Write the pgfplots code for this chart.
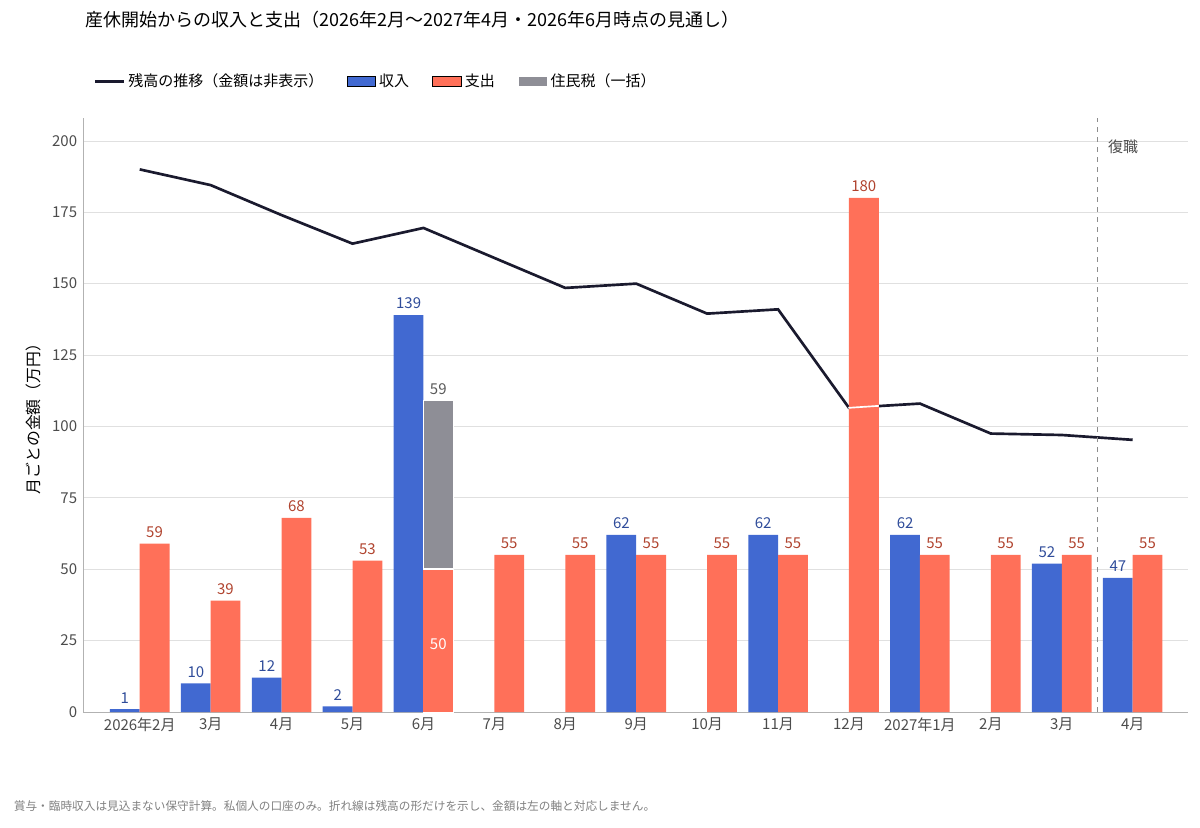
\documentclass[border=0pt]{standalone}
\usepackage{pgfplots}
\pgfplotsset{compat=1.18}
\usepackage{fontspec}
\setmainfont{Noto Sans CJK JP}
\definecolor{cin}{HTML}{4169D1}
\definecolor{cout}{HTML}{FF7059}
\definecolor{ctax}{HTML}{8E8E96}
\definecolor{cline}{HTML}{1A1A2E}
\definecolor{tin}{HTML}{2F4C9A}
\definecolor{tout}{HTML}{B0432E}
\begin{document}
\begin{tikzpicture}
\useasboundingbox (0pt,0pt) rectangle (720pt,496.2pt);
\node[anchor=west,font=\fontsize{10.8}{12}\selectfont] at (48pt,484.2pt) {産休開始からの収入と支出（2026年2月〜2027年4月・2026年6月時点の見通し）};
\node[anchor=west,font=\fontsize{7}{8}\selectfont,text=gray] at (4.8pt,12.6pt) {賞与・臨時収入は見込まない保守計算。私個人の口座のみ。折れ線は残高の形だけを示し、金額は左の軸と対応しません。};
\begin{axis}[at={(49.8pt,69pt)},anchor=south west,scale only axis,
 width=663pt,height=356.4pt,
 xmin=-0.8,xmax=14.78,ymin=0,ymax=208,
 xtick={0,...,14},
 xticklabels={2026年2月,3月,4月,5月,6月,7月,8月,9月,10月,11月,12月,2027年1月,2月,3月,4月},
 ytick={0,25,...,200},
 /pgf/number format/assume math mode=true,
 tick label style={font=\fontsize{9}{10}\selectfont,text=black!70},
 major tick length=0pt,
 axis x line*=bottom, axis y line*=left,
 axis line style={black!30},
 ymajorgrids, grid style={black!12},
 ylabel={月ごとの金額（万円）},
 ylabel style={font=\fontsize{9.5}{10}\selectfont},
 legend style={at={(0.005,1.062)},anchor=west,draw=none,legend columns=4,
   font=\fontsize{9}{10}\selectfont,/tikz/every even column/.append style={column sep=12pt}},
 clip=false,
 every node near coord/.append style={font=\fontsize{9}{10}\selectfont},
]
\addplot[cline,line width=1.6pt] coordinates {(0,190)(1,184.5)(2,174)(3,164)(4,169.5)(5,159)(6,148.5)(7,150)(8,139.5)(9,141)(10,106.5)(11,108)(12,97.5)(13,97)(14,95.3)};
\addlegendentry{残高の推移（金額は非表示）}
\addplot[ybar,bar width=0.42,bar shift=-0.21,fill=cin,draw=none,area legend,
  nodes near coords,nodes near coords style={text=tin,xshift=-8.9pt}] coordinates {(0,1)(1,10)(2,12)(3,2)(4,139)(7,62)(9,62)(11,62)(13,52)(14,47)};
\addlegendentry{収入}
\addplot[ybar,bar width=0.42,bar shift=0.21,fill=cout,draw=none,area legend,
  nodes near coords,nodes near coords style={text=tout,xshift=8.9pt}] coordinates {(0,59)(1,39)(2,68)(3,53)(5,55)(6,55)(7,55)(8,55)(9,55)(10,180)(11,55)(12,55)(13,55)(14,55)};
\addlegendentry{支出}
\addplot[ybar,bar width=0.42,bar shift=0.21,fill=ctax,draw=white,area legend,
  point meta=explicit symbolic,nodes near coords,nodes near coords style={text=black!65,xshift=8.9pt}] coordinates {(4,109)[59]};
\addlegendentry{住民税（一括）}
\addplot[ybar,bar width=0.42,bar shift=0.21,fill=cout,draw=none,forget plot,
  point meta=explicit symbolic,nodes near coords,
  nodes near coords style={text=white,xshift=8.9pt,yshift=-52pt}] coordinates {(4,50)[50]};
\draw[white,line width=1pt] (axis cs:4.0,50) -- (axis cs:4.42,50);
\draw[white,line width=1pt] (axis cs:9.99,106.5) -- (axis cs:10.42,107.2);
\draw[black!45,dashed,thick] (axis cs:13.5,0) -- (axis cs:13.5,208);
\node[anchor=west,font=\fontsize{9}{10}\selectfont,text=black!70] at (axis cs:13.57,198) {復職};
\end{axis}
\end{tikzpicture}
\end{document}
